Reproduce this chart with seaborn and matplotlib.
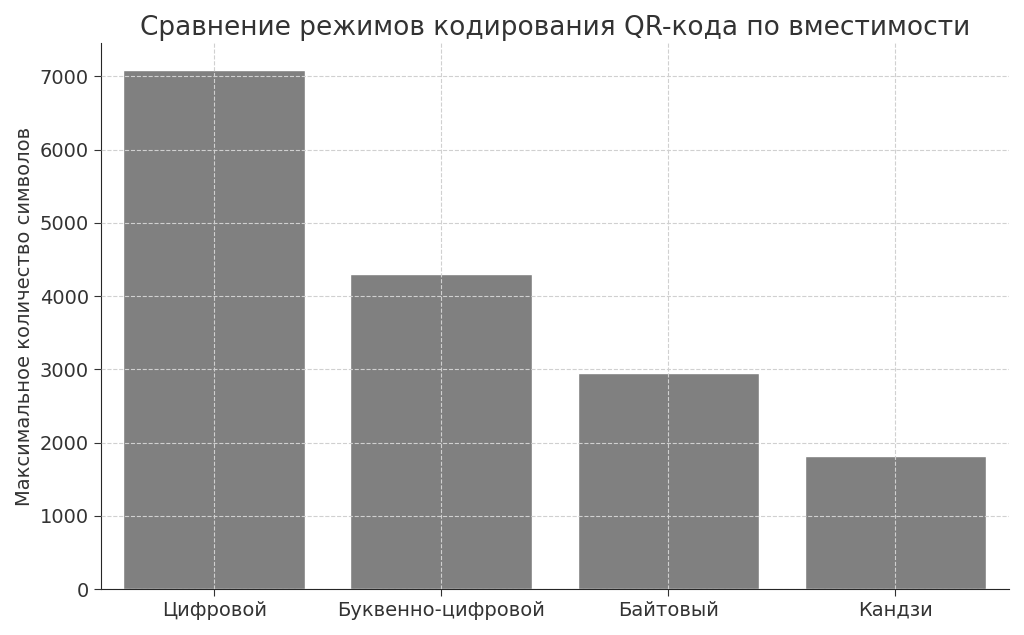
import pandas as pd
import matplotlib.pyplot as plt
import seaborn as sns

modes = ["Цифровой", "Буквенно-цифровой", "Байтовый", "Кандзи"]
capacity = [7089, 4296, 2953, 1817]

df = pd.DataFrame({"Режим": modes, "Символы": capacity})

sns.set_style("white")
plt.rcParams["font.family"] = ["DejaVu Sans"]

fig, ax = plt.subplots(figsize=(10.24, 6.35), dpi=100)
sns.barplot(data=df, x="Режим", y="Символы", color="gray", saturation=1, width=0.8, ax=ax)

ax.grid(True, linestyle="--", color="#d0d0d0", linewidth=0.8)
ax.set_axisbelow(False)
for spine in ["top", "right"]:
    ax.spines[spine].set_visible(False)

ax.set_title("Сравнение режимов кодирования QR-кода по вместимости", fontsize=19, color="#333333")
ax.set_xlabel("")
ax.set_ylabel("Максимальное количество символов", fontsize=14, color="#333333")
ax.tick_params(labelsize=14, colors="#333333", length=5, left=True, bottom=True)
ax.set_ylim(0, 7450)

plt.tight_layout()
plt.savefig("out.png", dpi=100)
